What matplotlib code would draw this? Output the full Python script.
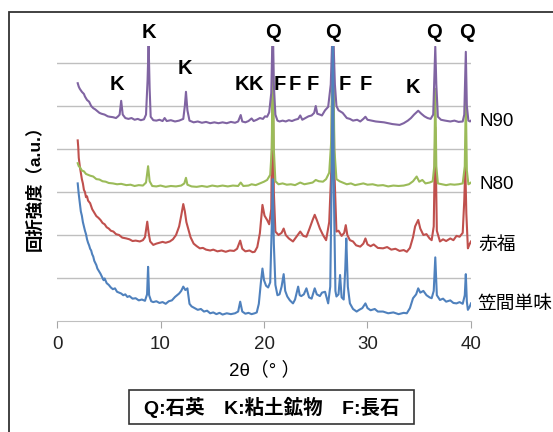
import matplotlib
matplotlib.use("Agg")
import matplotlib.pyplot as plt
from matplotlib.patches import Rectangle

plt.rcParams['font.family'] = ['Liberation Sans', 'Noto Sans CJK JP', 'DejaVu Sans']

# 笠間単味 (blue)
kasama_x = [2.0, 2.1, 2.2, 2.3, 2.4, 2.5, 2.6, 2.7, 2.8, 2.9, 3.0, 3.1, 3.2, 3.3, 3.4, 3.5, 3.6, 3.7, 3.8, 3.9,
            4.0, 4.2, 4.4, 4.5, 4.6, 4.8, 5.0, 5.2, 5.4, 5.6, 5.8, 6.0, 6.2, 6.4, 6.6, 6.8, 7.0, 7.3, 7.6, 7.9,
            8.2, 8.5, 8.7, 8.8, 8.9, 9.1, 9.3, 9.6, 9.9, 10.2, 10.5, 10.8, 11.1, 11.4, 11.6, 11.8, 12.0, 12.2, 12.4, 12.6,
            12.8, 13.0, 13.3, 13.6, 13.9, 14.2, 14.5, 14.8, 15.1, 15.4, 15.7, 16.0, 16.4, 16.8, 17.2, 17.5, 17.7, 17.9, 18.2, 18.5,
            18.8, 19.1, 19.3, 19.5, 19.7, 19.85, 20.0, 20.2, 20.4, 20.6, 20.75, 20.85, 20.95, 21.1, 21.3, 21.5, 21.7, 21.9, 22.05, 22.25,
            22.5, 22.8, 23.0, 23.3, 23.45, 23.6, 23.85, 24.1, 24.35, 24.6, 24.9, 25.1, 25.4, 25.6, 25.9, 26.2, 26.4, 26.55, 26.65, 26.75,
            26.9, 27.0, 27.2, 27.35, 27.5, 27.7, 27.85, 27.95, 28.1, 28.3, 28.6, 28.95, 29.2, 29.5, 29.8, 30.0, 30.3, 30.7, 31.0, 31.5,
            32.0, 32.5, 33.0, 33.5, 33.8, 34.1, 34.4, 34.7, 34.9, 35.1, 35.4, 35.7, 36.0, 36.2, 36.4, 36.55, 36.7, 37.0, 37.3, 37.6,
            38.0, 38.3, 38.6, 38.9, 39.2, 39.4, 39.5, 39.6, 39.7, 39.85, 40.0]
kasama_y = [3.20, 2.95, 2.74, 2.55, 2.45, 2.30, 2.20, 2.10, 2.02, 1.90, 1.82, 1.76, 1.68, 1.64, 1.55, 1.50, 1.40, 1.35, 1.30, 1.22,
            1.18, 1.10, 1.00, 0.95, 0.99, 0.88, 0.84, 0.78, 0.74, 0.76, 0.68, 0.66, 0.64, 0.60, 0.62, 0.56, 0.58, 0.52, 0.53, 0.48,
            0.50, 0.47, 0.62, 1.26, 0.60, 0.46, 0.44, 0.46, 0.42, 0.44, 0.40, 0.46, 0.48, 0.56, 0.60, 0.64, 0.70, 0.80, 0.72, 0.76,
            0.40, 0.34, 0.30, 0.26, 0.28, 0.22, 0.24, 0.18, 0.20, 0.16, 0.19, 0.15, 0.18, 0.16, 0.18, 0.22, 0.45, 0.22, 0.17, 0.19,
            0.16, 0.18, 0.20, 0.40, 0.90, 1.22, 0.95, 0.82, 0.78, 0.90, 2.20, 3.30, 1.80, 0.84, 0.60, 0.62, 0.80, 1.09, 0.70, 0.57,
            0.48, 0.41, 0.50, 0.80, 0.60, 0.58, 0.62, 0.76, 0.55, 0.52, 0.76, 0.62, 0.58, 0.66, 0.68, 0.41, 0.80, 3.50, 7.00, 3.00,
            0.70, 0.57, 0.62, 1.07, 0.55, 0.50, 1.20, 1.92, 0.80, 0.41, 0.28, 0.22, 0.26, 0.30, 0.41, 0.30, 0.25, 0.28, 0.22, 0.22,
            0.18, 0.20, 0.16, 0.19, 0.18, 0.30, 0.53, 0.62, 0.76, 0.66, 0.70, 0.60, 0.55, 0.53, 0.70, 1.48, 0.60, 0.49, 0.52, 0.45,
            0.48, 0.42, 0.41, 0.44, 0.40, 0.60, 1.09, 0.45, 0.26, 0.32, 0.41]

# 赤福 (red)
akafuku_x = [2.0, 2.05, 2.1, 2.2, 2.3, 2.4, 2.5, 2.6, 2.7, 2.8, 2.9, 3.0, 3.2, 3.4, 3.6, 3.8, 4.0, 4.2, 4.4, 4.6,
             4.8, 5.0, 5.2, 5.45, 5.7, 6.0, 6.3, 6.7, 7.0, 7.3, 7.6, 8.0, 8.3, 8.5, 8.72, 8.85, 9.0, 9.3, 9.6, 9.9,
             10.2, 10.5, 10.9, 11.2, 11.5, 11.8, 12.0, 12.2, 12.35, 12.5, 12.7, 12.9, 13.2, 13.5, 13.8, 14.1, 14.4, 14.8, 15.1, 15.5,
             15.9, 16.3, 16.7, 17.1, 17.4, 17.7, 17.9, 18.2, 18.6, 18.9, 19.1, 19.35, 19.6, 19.85, 20.05, 20.3, 20.5, 20.7, 20.85, 20.95,
             21.1, 21.4, 21.7, 21.9, 22.1, 22.4, 22.8, 23.1, 23.5, 23.8, 24.1, 24.4, 24.7, 24.9, 25.1, 25.4, 25.7, 26.0, 26.3, 26.5,
             26.65, 26.8, 27.0, 27.2, 27.5, 27.75, 27.9, 28.05, 28.3, 28.6, 28.9, 29.3, 29.6, 29.8, 30.0, 30.3, 30.6, 31.0, 31.5, 31.9,
             32.3, 32.7, 33.1, 33.5, 33.8, 34.1, 34.4, 34.6, 34.9, 35.1, 35.4, 35.7, 36.0, 36.2, 36.4, 36.55, 36.7, 37.0, 37.3, 37.6,
             38.0, 38.3, 38.6, 38.9, 39.2, 39.35, 39.45, 39.55, 39.7, 39.85, 40.0]
akafuku_y = [4.20, 4.05, 3.80, 3.60, 3.45, 3.30, 3.20, 3.05, 3.00, 2.88, 2.90, 2.80, 2.74, 2.60, 2.52, 2.44, 2.40, 2.35, 2.28, 2.25,
             2.18, 2.15, 2.10, 2.08, 2.02, 2.00, 1.94, 1.92, 1.90, 1.86, 1.87, 1.85, 1.88, 1.95, 2.31, 2.05, 1.85, 1.77, 1.80, 1.82,
             1.84, 1.82, 1.85, 1.90, 2.00, 2.20, 2.45, 2.72, 2.55, 2.30, 2.12, 1.95, 1.80, 1.74, 1.69, 1.70, 1.66, 1.64, 1.66, 1.62,
             1.64, 1.61, 1.64, 1.63, 1.68, 1.87, 1.68, 1.62, 1.64, 1.60, 1.61, 1.72, 2.04, 2.70, 2.45, 2.35, 2.25, 2.60, 6.00, 3.00,
             2.08, 2.00, 2.05, 2.15, 2.00, 1.92, 1.85, 1.95, 2.08, 1.98, 1.96, 2.15, 2.35, 2.47, 2.35, 2.15, 2.00, 1.88, 2.30, 3.50,
             7.00, 3.50, 2.08, 2.10, 1.98, 2.05, 2.23, 2.00, 1.88, 1.85, 1.76, 1.73, 1.80, 1.92, 1.78, 1.74, 1.78, 1.70, 1.69, 1.72,
             1.66, 1.68, 1.63, 1.65, 1.61, 1.70, 1.95, 2.20, 2.35, 2.15, 2.00, 2.02, 1.92, 1.88, 2.20, 4.50, 2.10, 1.85, 1.90, 1.86,
             1.92, 1.88, 1.98, 1.96, 2.05, 2.80, 3.60, 2.50, 1.69, 1.78, 1.85]

# N80 (green)
n80_x = [2.0, 2.1, 2.2, 2.4, 2.6, 2.8, 3.0, 3.2, 3.5, 3.8, 4.1, 4.4, 4.7, 5.0, 5.4, 5.8, 6.2, 6.7, 7.1, 7.5,
         7.9, 8.3, 8.6, 8.8, 8.95, 9.2, 9.6, 10.0, 10.5, 11.0, 11.5, 12.0, 12.3, 12.46, 12.6, 13.0, 13.5, 14.0, 14.5, 15.0,
         15.5, 16.0, 16.5, 17.0, 17.5, 17.75, 18.0, 18.5, 18.8, 19.2, 19.6, 20.0, 20.3, 20.6, 20.75, 20.85, 20.95, 21.1, 21.4, 21.8,
         22.2, 22.6, 23.0, 23.5, 23.9, 24.3, 24.7, 25.0, 25.3, 25.7, 26.0, 26.3, 26.5, 26.65, 26.8, 27.0, 27.3, 27.6, 28.0, 28.4,
         28.8, 29.2, 29.6, 30.0, 30.5, 31.0, 31.5, 32.0, 32.5, 33.0, 33.5, 34.0, 34.4, 34.75, 35.0, 35.3, 35.6, 36.0, 36.3, 36.45,
         36.55, 36.65, 36.8, 37.2, 37.6, 38.0, 38.4, 38.8, 39.2, 39.4, 39.5, 39.6, 39.75, 39.9, 40.0]
n80_y = [3.67, 3.60, 3.58, 3.50, 3.48, 3.42, 3.40, 3.38, 3.36, 3.30, 3.29, 3.25, 3.24, 3.21, 3.20, 3.18, 3.19, 3.16, 3.17, 3.14,
         3.16, 3.15, 3.22, 3.60, 3.25, 3.14, 3.13, 3.15, 3.12, 3.14, 3.13, 3.15, 3.20, 3.33, 3.17, 3.13, 3.12, 3.14, 3.12, 3.15,
         3.13, 3.15, 3.13, 3.15, 3.14, 3.22, 3.14, 3.15, 3.18, 3.16, 3.20, 3.24, 3.28, 3.40, 4.00, 6.60, 4.00, 3.25, 3.18, 3.20,
         3.17, 3.18, 3.16, 3.22, 3.18, 3.20, 3.22, 3.28, 3.25, 3.24, 3.30, 3.45, 4.20, 7.00, 4.00, 3.30, 3.25, 3.22, 3.18, 3.20,
         3.16, 3.18, 3.20, 3.17, 3.18, 3.15, 3.16, 3.13, 3.15, 3.14, 3.15, 3.18, 3.25, 3.36, 3.24, 3.28, 3.20, 3.22, 3.25, 3.60,
         5.40, 3.60, 3.20, 3.18, 3.16, 3.18, 3.17, 3.18, 3.20, 3.60, 5.20, 3.50, 3.18, 3.20, 3.22]

# N90 (purple)
n90_x = [2.0, 2.1, 2.2, 2.4, 2.6, 2.7, 2.9, 3.1, 3.3, 3.5, 3.7, 3.9, 4.1, 4.3, 4.6, 4.9, 5.1, 5.4, 5.7, 5.9,
         6.05, 6.2, 6.35, 6.6, 6.9, 7.2, 7.5, 7.8, 8.1, 8.4, 8.6, 8.75, 8.85, 8.95, 9.05, 9.3, 9.6, 9.9, 10.2, 10.4,
         10.6, 11.0, 11.4, 11.8, 12.2, 12.35, 12.46, 12.6, 12.8, 13.2, 13.6, 14.0, 14.4, 14.8, 15.2, 15.6, 16.0, 16.4, 16.8, 17.2,
         17.5, 17.75, 17.9, 18.2, 18.5, 18.8, 19.0, 19.3, 19.6, 19.9, 20.1, 20.3, 20.5, 20.7, 20.85, 20.95, 21.1, 21.3, 21.5, 21.8,
         22.1, 22.4, 22.7, 23.0, 23.3, 23.5, 23.7, 24.0, 24.3, 24.6, 24.85, 25.0, 25.15, 25.4, 25.6, 25.9, 26.2, 26.45, 26.65, 26.85,
         27.0, 27.2, 27.4, 27.6, 27.8, 28.0, 28.3, 28.6, 29.0, 29.3, 29.6, 29.8, 30.0, 30.4, 30.8, 31.2, 31.6, 32.0, 32.4, 32.8,
         33.1, 33.5, 33.9, 34.2, 34.5, 34.9, 35.2, 35.5, 35.8, 36.1, 36.35, 36.5, 36.55, 36.65, 36.8, 37.1, 37.5, 38.0, 38.4, 38.8,
         39.2, 39.35, 39.5, 39.6, 39.75, 39.9, 40.0]
n90_y = [5.53, 5.45, 5.40, 5.33, 5.28, 5.22, 5.14, 5.10, 5.00, 4.95, 4.92, 4.88, 4.84, 4.82, 4.80, 4.76, 4.75, 4.74, 4.72, 4.76,
         4.80, 5.12, 4.80, 4.72, 4.70, 4.72, 4.68, 4.70, 4.67, 4.69, 4.80, 5.60, 6.45, 5.40, 4.75, 4.67, 4.66, 4.68, 4.65, 4.72,
         4.65, 4.67, 4.64, 4.66, 4.70, 5.00, 5.33, 4.90, 4.66, 4.62, 4.64, 4.61, 4.63, 4.60, 4.62, 4.60, 4.62, 4.60, 4.63, 4.61,
         4.64, 4.79, 4.64, 4.62, 4.65, 4.71, 4.65, 4.68, 4.72, 4.70, 4.76, 4.75, 4.85, 5.30, 7.00, 5.50, 4.80, 4.66, 4.64, 4.66,
         4.64, 4.67, 4.65, 4.68, 4.70, 4.78, 4.68, 4.72, 4.76, 4.78, 4.84, 5.00, 4.82, 4.80, 4.78, 4.90, 4.98, 5.50, 7.00, 5.50,
         5.00, 4.90, 4.87, 4.84, 4.78, 4.72, 4.70, 4.66, 4.68, 4.64, 4.70, 4.75, 4.68, 4.66, 4.64, 4.63, 4.62, 4.60, 4.58, 4.57,
         4.56, 4.60, 4.66, 4.72, 4.80, 4.89, 4.82, 4.76, 4.72, 4.70, 4.80, 6.00, 6.38, 5.50, 4.75, 4.68, 4.66, 4.64, 4.66, 4.63,
         4.64, 4.80, 6.26, 5.00, 4.66, 4.64, 4.66]

series_names = ['笠間単味', '赤福', 'N80', 'N90']
series_label_y = [0.38, 1.77, 3.17, 4.63]

peak_text = ['K', 'K', 'K', 'K', 'K', 'F', 'F', 'F', 'F', 'F', 'K', 'Q', 'Q', 'Q', 'Q']
peak_x = [5.8, 8.89, 12.37, 17.87, 19.23, 21.55, 23.0, 24.73, 27.83, 29.86, 34.4, 20.87, 26.67, 36.43, 39.61]
peak_y = [5.51, 6.70, 5.88, 5.49, 5.49, 5.49, 5.49, 5.49, 5.49, 5.49, 5.44, 6.72, 6.72, 6.72, 6.72]

fig = plt.figure(figsize=(5.53, 4.32), dpi=100)
fig.patches.append(Rectangle((0.0163, -0.1), 1.2, 1.072, transform=fig.transFigure,
                             fill=False, edgecolor='#333333', linewidth=1.3))
ax = fig.add_axes([0.1031, 0.2569, 0.7486, 0.6371])

ax.plot(akafuku_x, akafuku_y, color='#c0504d', lw=1.5)
ax.plot(n80_x, n80_y, color='#9bbb59', lw=1.5)
ax.plot(n90_x, n90_y, color='#8064a2', lw=1.5)
ax.plot(kasama_x, kasama_y, color='#4f81bd', lw=1.5)

ax.set_xlim(0, 40)
ax.set_ylim(0, 6.4)
ax.set_xticks([0, 10, 20, 30, 40])
ax.set_yticks([1, 2, 3, 4, 5, 6])
ax.tick_params(axis='y', left=False, labelleft=False)
ax.tick_params(axis='x', direction='out', length=5, color='#a6a6a6', labelsize=13.5, labelcolor='#222222', pad=6)
ax.grid(axis='y', color='#bfbfbf', lw=1)
ax.set_axisbelow(True)
for s in ['left', 'right', 'top']:
    ax.spines[s].set_visible(False)
ax.spines['bottom'].set_color('#bfbfbf')

for t, x, y in zip(peak_text, peak_x, peak_y):
    ax.text(x, y, t, ha='center', va='center', fontsize=14.5, fontweight='bold', clip_on=False)

for name, y in zip(series_names, series_label_y):
    ax.text(42.5 if name != '笠間単味' else 40.6, y, name, ha='left' if name == '笠間単味' else 'center',
            va='center', fontsize=13.5, clip_on=False)

ax.set_ylabel('回折強度（a.u.）', fontsize=12.5, fontweight='bold', labelpad=10)
fig.text(265 / 553, 1 - 370 / 432, '2θ（° ）', ha='center', va='center', fontsize=13.5)

fig.patches.append(Rectangle((129 / 553, 1 - 424 / 432), 285 / 553, 34 / 432, transform=fig.transFigure,
                             fill=False, edgecolor='#333333', linewidth=1.2))
fig.text(272 / 553, 1 - 407 / 432, 'Q:石英　K:粘土鉱物　F:長石', ha='center', va='center',
         fontsize=14, fontweight='bold')

fig.savefig('out.png', dpi=100)
